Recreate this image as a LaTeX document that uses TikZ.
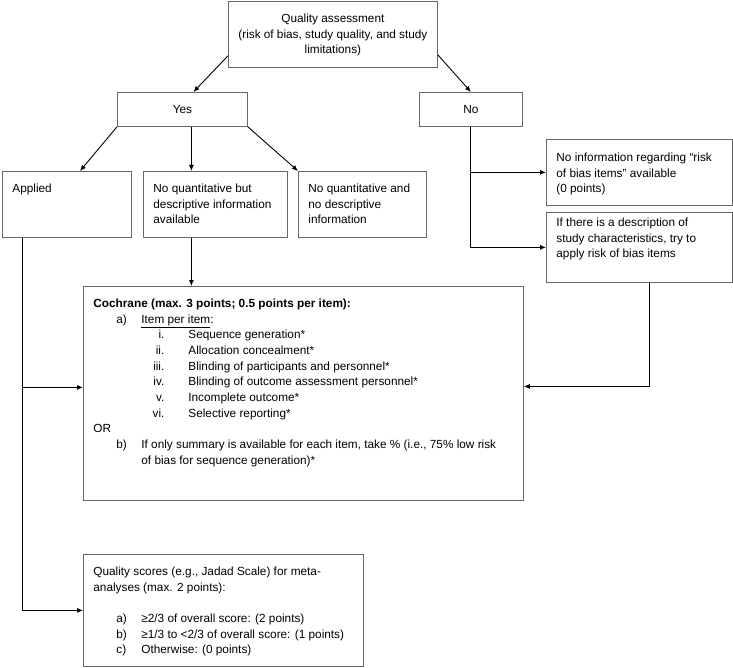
\documentclass[tikz,border=0pt]{standalone}
\usepackage{fontspec}
\setmainfont{Liberation Sans}
\usetikzlibrary{arrows.meta,calc}

% one numbered line of the Cochrane list
\newcommand{\romitem}[2]{\hspace*{48pt}\makebox[23pt][r]{#1}\hspace*{24pt}#2}
% one lettered line
\newcommand{\letitem}[2]{\hspace*{23pt}\makebox[25pt][l]{#1}#2}
\newcommand{\boxalign}{\relax}

\begin{document}
\begin{tikzpicture}[x=1pt,y=-1pt,
	every node/.style={font=\fontsize{11.8}{15.7}\selectfont},
	% box: width, height, space above the first line
	tbox/.style n args={3}{draw=black!60,line width=0.8pt,anchor=north west,
		inner xsep=10pt,inner ysep=0pt,
		execute at begin node={\begin{minipage}[t][#2][t]{\dimexpr#1-20pt\relax}\boxalign\vspace*{#3}\strut},
		execute at end node={\end{minipage}}},
	sbox/.style 2 args={tbox={#1}{#2}{10pt}},
	mid/.code={\let\boxalign\centering},
	link/.style={line width=0.9pt,-{Latex[length=6pt,width=5pt]}}]
	\useasboundingbox (0,0) rectangle (733,668);
	
	%Top of the tree
	\node[mid,sbox={209pt}{66pt}] (quality) at (228,1) {Quality assessment\\(risk of bias, study quality, and study\\limitations)};
	\node[mid,sbox={130pt}{34pt}] (yes) at (117,92) {Yes};
	\node[mid,sbox={103pt}{34pt}] (no) at (419,92) {No};
	
	%Yes branch
	\node[sbox={129pt}{66pt}] (applied) at (2,171) {Applied};
	\node[sbox={144pt}{66pt}] (descr) at (143,171) {No quantitative but\\descriptive information\\available};
	\node[sbox={128pt}{66pt}] (nodescr) at (298,171) {No quantitative and\\no descriptive\\information};
	
	%No branch
	\node[tbox={186pt}{66pt}{11pt}] (noinfo) at (546,139) {No information regarding “risk\\of bias items” available\\(0 points)};
	\node[tbox={186pt}{70pt}{3pt}] (tryrob) at (546,212) {If there is a description of\\study characteristics, try to\\apply risk of bias items};
	
	%Scoring boxes
	\node[sbox={440pt}{214pt}] (cochrane) at (83,286) {\textbf{Cochrane (max. 3 points; 0.5 points per item):}\\
		\letitem{a)}{\underline{Item per item}:}\\
		\romitem{i.}{Sequence generation*}\\
		\romitem{ii.}{Allocation concealment*}\\
		\romitem{iii.}{Blinding of participants and personnel*}\\
		\romitem{iv.}{Blinding of outcome assessment personnel*}\\
		\romitem{v.}{Incomplete outcome*}\\
		\romitem{vi.}{Selective reporting*}\\
		OR\\
		\letitem{b)}{If only summary is available for each item, take \% (i.e., 75\% low risk}\\
		\hspace*{48pt}of bias for sequence generation)*};
	\node[sbox={280pt}{112pt}] (scores) at (83,554) {Quality scores (e.g., Jadad Scale) for meta-\\
		analyses (max. 2 points):\\[15.7pt]
		\letitem{a)}{≥2/3 of overall score: (2 points)}\\
		\letitem{b)}{≥1/3 to <2/3 of overall score: (1 points)}\\
		\letitem{c)}{Otherwise: (0 points)}};
	
	%Connectors
	\coordinate (ycol) at ([xshift=9pt]yes.south);
	\draw[link] ([yshift=12pt]quality.south west) -- ([xshift=11pt]yes.north);
	\draw[link] ([yshift=13pt]quality.south east) -- (no.north);
	\draw[link] (yes.south west) -- ([xshift=78pt]applied.north west);
	\draw[link] (ycol) -- (ycol |- descr.north);
	\draw[link] (yes.south east) -- (nodescr.north west);
	\draw[link] (descr.south -| ycol) -- (cochrane.north -| ycol);
	% No: down and to the right
	\draw[link] (no.south) |- (tryrob.west);
	\draw[link] (no.south |- noinfo.west) -- (noinfo.west);
	\draw[link] ([xshift=10pt]tryrob.south) |- ([yshift=7pt]cochrane.east);
	% Applied: down and to the right
	\coordinate (acol) at ([xshift=20pt]applied.south west);
	\draw[link] (acol) |- (scores.west);
	\draw[link] (acol |- cochrane.west) ++(0,-6) -- ([yshift=6pt]cochrane.west);
\end{tikzpicture}
\end{document}
